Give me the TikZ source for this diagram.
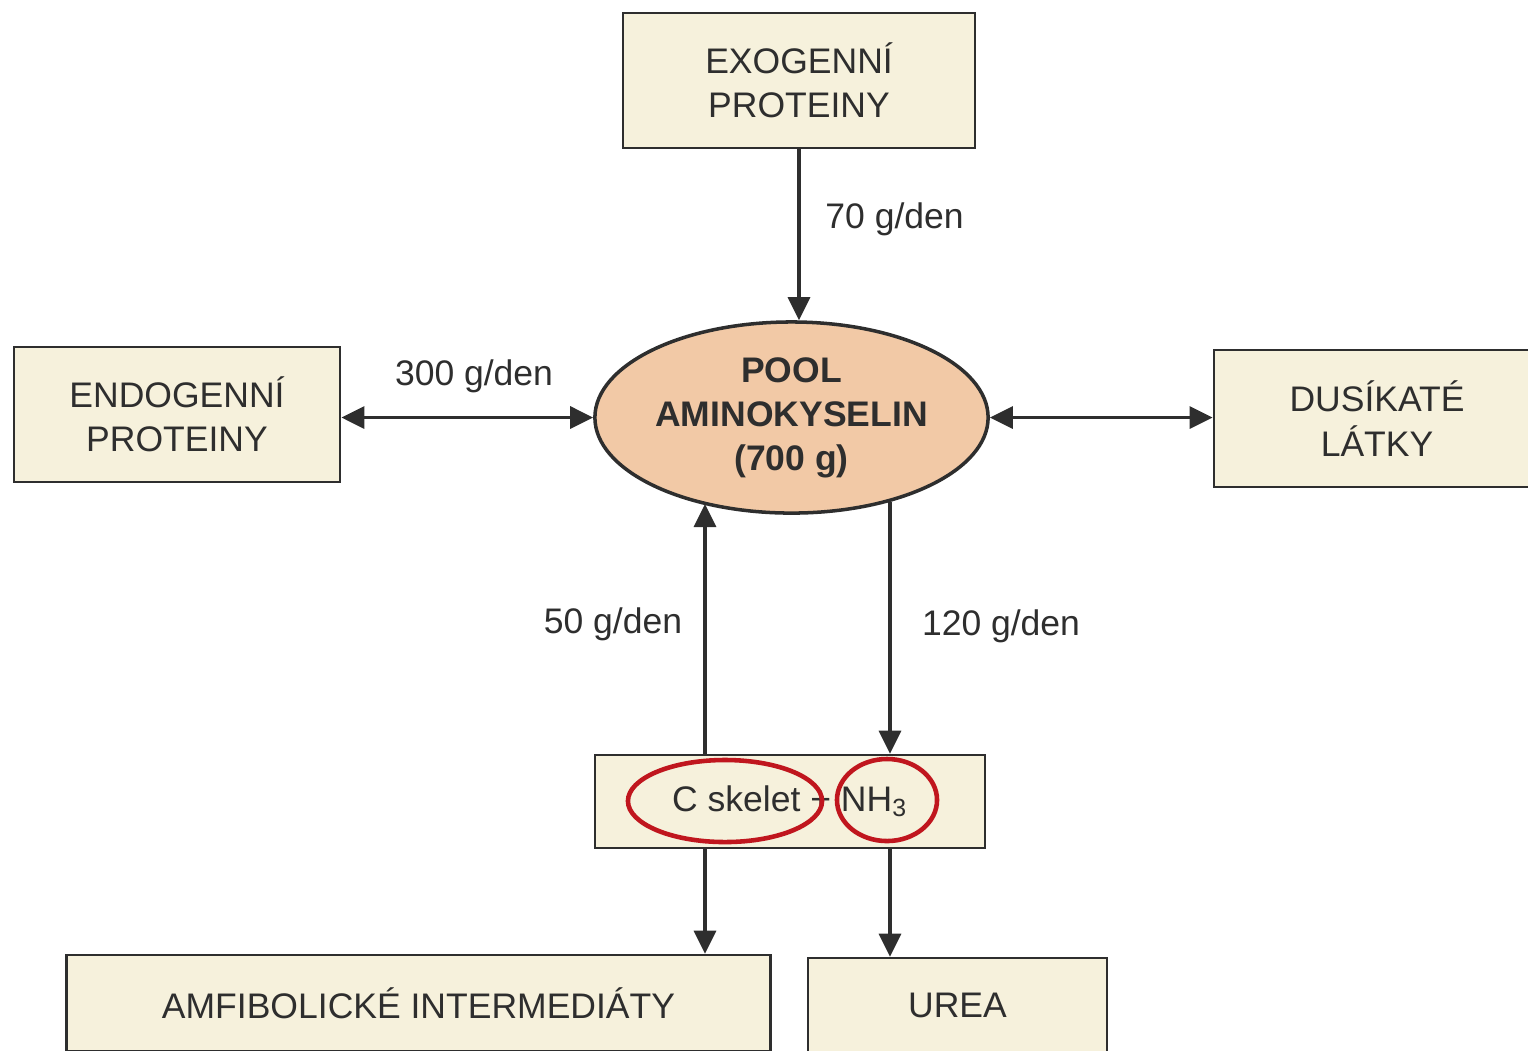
\documentclass[tikz,border=0pt]{standalone}
\usepackage{fontspec}
\setmainfont{Liberation Sans}
\usetikzlibrary{shapes.geometric,arrows.meta}
\definecolor{boxfill}{HTML}{F6F1DC}
\definecolor{peach}{HTML}{F2C9A6}
\definecolor{ink}{HTML}{2E2E2E}
\definecolor{redmark}{HTML}{C0161E}
\tikzset{
  txt/.style={text=ink, font=\fontsize{10.1}{12.6}\selectfont, align=center},
  box/.style={txt, draw=ink, line width=0.75pt, fill=boxfill, inner sep=0pt},
  pool/.style={txt, ellipse, draw=ink, line width=1pt, fill=peach, inner sep=0pt,
    font=\fontsize{10.1}{12.6}\selectfont\bfseries},
  conn/.style={draw=ink, line width=0.95pt, -{Triangle[length=0.23cm,width=0.22cm]}},
  biconn/.style={draw=ink, line width=0.95pt, {Triangle[length=0.23cm,width=0.22cm]}-{Triangle[length=0.23cm,width=0.22cm]}},
  lbl/.style={txt},
  redring/.style={ellipse, draw=redmark, line width=1.3pt, inner sep=0pt},
}
\begin{document}
\begin{tikzpicture}[x=0.01cm, y=-0.01cm]
\useasboundingbox (0,0) rectangle (1528,1050);
% nodes
\node[box, minimum width=3.52cm, minimum height=1.35cm] (exo) at (799,80.5) {EXOGENNÍ\\PROTEINY};
\node[box, minimum width=3.26cm, minimum height=1.35cm] (endo) at (177,414.5) {ENDOGENNÍ\\PROTEINY};
\node[box, minimum width=3.26cm, minimum height=1.37cm] (dus) at (1377,418.5) {DUSÍKATÉ\\LÁTKY};
\node[pool, minimum width=3.93cm, minimum height=1.91cm] (pool) at (791.5,417.5) {\raisebox{-0.1cm}{\begin{tabular}{@{}c@{}}POOL\\AMINOKYSELIN\\(700 g)\end{tabular}}};
\node[box, minimum width=3.90cm, minimum height=0.93cm] (cbox) at (790,801.5) {C skelet + NH\textsubscript{3}};
\node[box, minimum width=7.03cm, minimum height=0.96cm] (amf) at (418.5,1003) {AMFIBOLICKÉ INTERMEDIÁTY};
\node[box, minimum width=2.99cm, minimum height=0.94cm] (urea) at (957.5,1005) {UREA};
% red rings
\node[redring, minimum width=1.94cm, minimum height=0.82cm] (ring1) at (725,801) {};
\node[redring, minimum width=1.00cm, minimum height=0.82cm] (ring2) at (887,800) {};
% labels
\node[lbl, anchor=west] (l70) at (813,219) {70 g/den};
\node[lbl] (l300) at (474,376) {300 g/den};
\node[lbl] (l50) at (613,624) {50 g/den};
\node[lbl] (l120) at (1001,626) {120 g/den};
% helper coordinates on the ellipse rim
\coordinate (pu) at (705,504);
\coordinate (pd) at (890,502);
\coordinate (ca) at (705,848);
\coordinate (cu) at (890,848);
% connectors
\draw[conn] (exo.south) -- (exo.south |- pool.north);
\draw[biconn] (endo.east |- pool.west) -- (pool.west);
\draw[biconn] (pool.east) -- (dus.west |- pool.east);
\draw[conn] (cbox.north -| pu) -- (pu);
\draw[conn] (pd) -- (cbox.north -| pd);
\draw[conn] (ca) -- (amf.north -| ca);
\draw[conn] (cu) -- (urea.north -| cu);
\end{tikzpicture}
\end{document}
